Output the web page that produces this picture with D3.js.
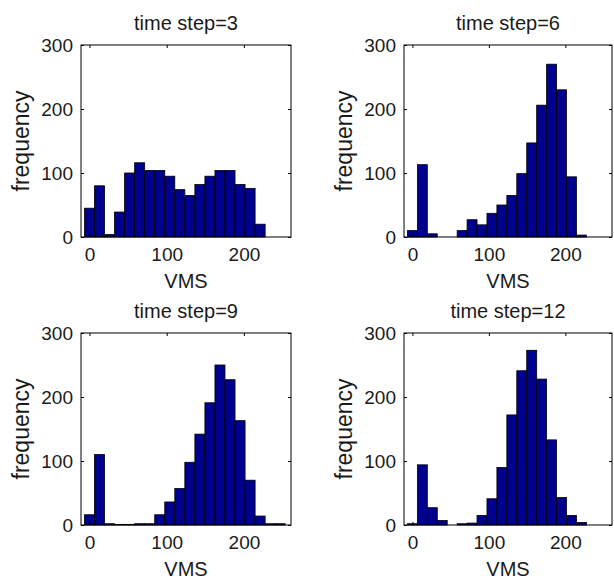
<!DOCTYPE html>
<meta charset="utf-8">
<style>
  body { margin: 0; background: #ffffff; }
  /* matlab-ish text */
  text { font-family: "Liberation Sans", Arial, sans-serif; fill: #1a1a1a; }
  .tick text { font-size: 19px; }
  .tick line { stroke: #000; }
</style>
<body>
<script src="https://cdn.jsdelivr.net/npm/d3@7"></script>
<script>

// bin centres of the VMS histogram
var binCenters = [0, 13, 26, 39, 52, 65, 78, 91, 104, 117, 130, 143, 156, 169, 182, 195, 208, 221, 234, 247];

// frequency per bin, one array per time step
var step3  = [45, 80, 4, 39, 100, 116, 104, 104, 95, 74, 65, 82, 95, 104, 104, 82, 76, 20, 0, 0];
var step6  = [10, 113, 5, 0, 0, 10, 27, 19, 37, 50, 65, 99, 147, 206, 270, 230, 94, 3, 0, 0];
var step9  = [16, 110, 2, 1, 1, 2, 2, 16, 36, 57, 98, 142, 191, 250, 227, 163, 70, 14, 2, 2];
var step12 = [2, 94, 27, 7, 0, 2, 3, 15, 41, 90, 172, 241, 273, 228, 133, 43, 15, 4, 0, 0];

var titles = ["time step=3", "time step=6", "time step=9", "time step=12"];
var xTicks = [0, 100, 200];
var yTicks = [0, 100, 200, 300];
var xLabel = "VMS";
var yLabel = "frequency";

var series = [step3, step6, step9, step12];

// where each subplot sits on the page
var panels = [
  {left: 81,  top: 45,  width: 210, height: 192},
  {left: 404, top: 45,  width: 208, height: 192},
  {left: 81,  top: 333, width: 210, height: 192},
  {left: 404, top: 333, width: 208, height: 192}
];

var binWidth = binCenters[1] - binCenters[0];

var svg = d3.select("body").append("svg")
  .attr("width", 614)
  .attr("height", 580);

panels.forEach(function(p, i) {
  var values = series[i];

  var x = d3.scaleLinear().domain([-11, 261]).range([0, p.width]);
  var y = d3.scaleLinear().domain([0, 300]).range([p.height, 0]);

  var g = svg.append("g")
    .attr("transform", "translate(" + p.left + "," + p.top + ")");

  // bars
  g.selectAll(".bar")
    .data(values)
    .enter().append("rect")
    .attr("class", "bar")
    .attr("x", function(d, k) { return x(binCenters[k] - binWidth / 2); })
    .attr("width", function(d, k) { return x(binCenters[k] + binWidth / 2) - x(binCenters[k] - binWidth / 2); })
    .attr("y", function(d) { return y(d); })
    .attr("height", function(d) { return y(0) - y(d); })
    .attr("fill", "#00008f")
    .attr("stroke", "#000")
    .attr("stroke-width", 0.8);

  // inward ticks on all four sides, labels only bottom and left
  var bottom = g.append("g")
    .attr("transform", "translate(0," + p.height + ")")
    .call(d3.axisBottom(x).tickValues(xTicks).tickSizeInner(-3).tickSizeOuter(0).tickPadding(11));

  var left = g.append("g")
    .call(d3.axisLeft(y).tickValues(yTicks).tickSizeInner(-3).tickSizeOuter(0).tickPadding(8));

  g.append("g")
    .call(d3.axisTop(x).tickValues(xTicks).tickSizeInner(-3).tickSizeOuter(0).tickFormat(""));

  g.append("g")
    .attr("transform", "translate(" + p.width + ",0)")
    .call(d3.axisRight(y).tickValues(yTicks).tickSizeInner(-3).tickSizeOuter(0).tickFormat(""));

  g.selectAll(".domain").remove();
  bottom.selectAll("text").style("font-size", "19px");
  left.selectAll("text").style("font-size", "19px");

  // the axes box
  g.append("rect")
    .attr("width", p.width)
    .attr("height", p.height)
    .attr("fill", "none")
    .attr("stroke", "#000")
    .attr("stroke-width", 1);

  // title
  g.append("text")
    .attr("x", p.width / 2)
    .attr("y", -15)
    .attr("text-anchor", "middle")
    .style("font-size", "20px")
    .text(titles[i]);

  // x label
  g.append("text")
    .attr("x", p.width / 2)
    .attr("y", p.height + 51)
    .attr("text-anchor", "middle")
    .style("font-size", "20px")
    .text(xLabel);

  // y label
  g.append("text")
    .attr("transform", "translate(-52," + (p.height / 2) + ") rotate(-90)")
    .attr("text-anchor", "middle")
    .style("font-size", "23px")
    .text(yLabel);
});

</script>
</body>
